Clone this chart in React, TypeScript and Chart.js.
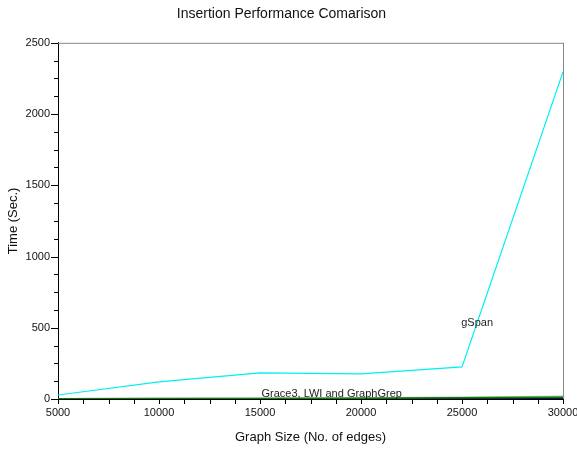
import React, { useEffect, useRef } from "react";
import { Chart, registerables } from "chart.js";

Chart.register(...registerables);

const graphSizes = [5000, 10000, 15000, 20000, 25000, 30000];
const gSpanTimes = [28, 120, 183, 176, 225, 2296];
const grace3Times = [2, 4, 6, 8, 12, 20];
const lwiTimes = [1, 3, 4, 6, 8, 12];
const graphGrepTimes = [0.5, 1, 1.5, 2, 3, 4];

const titleText = "Insertion Performance Comarison";
const xTitle = "Graph Size (No. of edges)";
const yTitle = "Time (Sec.)";
const labelTexts = ["gSpan", "Grace3, LWI and GraphGrep"];
const labelX = [25750, 18550];
const labelY = [534, 36];

const FONT = "'Liberation Sans', Arial, Helvetica, sans-serif";

const decorPlugin = {
  id: "decor",
  afterDraw(chart: any) {
    const { ctx, chartArea, scales } = chart;
    const xs = scales.x;
    const ys = scales.y;
    ctx.save();
    ctx.strokeStyle = "#888888";
    ctx.lineWidth = 1;
    ctx.beginPath();
    ctx.moveTo(chartArea.left, chartArea.top + 0.5);
    ctx.lineTo(chartArea.right, chartArea.top + 0.5);
    ctx.moveTo(chartArea.right + 0.5, chartArea.top);
    ctx.lineTo(chartArea.right + 0.5, chartArea.bottom);
    ctx.stroke();
    ctx.strokeStyle = "#000000";
    ctx.beginPath();
    for (let v = xs.min; v <= xs.max + 1; v += 1250) {
      const px = Math.round(xs.getPixelForValue(v)) + 0.5;
      ctx.moveTo(px, chartArea.bottom);
      ctx.lineTo(px, chartArea.bottom + 5);
    }
    for (let v = ys.min; v <= ys.max + 1; v += 125) {
      const py = Math.round(ys.getPixelForValue(v)) + 0.5;
      const len = v % 500 === 0 ? 7 : 4;
      ctx.moveTo(chartArea.left, py);
      ctx.lineTo(chartArea.left - len, py);
    }
    ctx.stroke();
    ctx.fillStyle = "#222222";
    ctx.font = `11px ${FONT}`;
    ctx.textAlign = "center";
    ctx.textBaseline = "middle";
    for (let i = 0; i < labelTexts.length; i++) {
      ctx.fillText(labelTexts[i], xs.getPixelForValue(labelX[i]), ys.getPixelForValue(labelY[i]));
    }
    ctx.restore();
  },
};

export default function App() {
  const ref = useRef<HTMLCanvasElement>(null);
  useEffect(() => {
    if (!ref.current) return;
    const mk = (label: string, data: number[], color: string, w = 1.2) => ({
      label,
      data: graphSizes.map((x, i) => ({ x, y: data[i] })),
      borderColor: color,
      backgroundColor: color,
      borderWidth: w,
      pointRadius: 0,
      tension: 0,
    });
    const chart = new Chart(ref.current, {
      type: "line",
      data: {
        datasets: [
          mk("LWI", lwiTimes, "#0a7a0a", 1.5),
          mk("GraphGrep", graphGrepTimes, "#101050", 1.5),
          mk("Grace3", grace3Times, "#a8c8a0", 1.5),
          mk("gSpan", gSpanTimes, "#00f0f0", 1.2),
        ],
      },
      options: {
        animation: false,
        responsive: false,
        maintainAspectRatio: false,
        layout: { padding: { left: 0, right: 14, top: 0, bottom: 0 } },
        plugins: {
          legend: { display: false },
          tooltip: { enabled: false },
          title: {
            display: true,
            text: titleText,
            color: "#111111",
            font: { family: FONT, size: 14, weight: "normal" },
            padding: { top: 6, bottom: 20 },
          },
        },
        scales: {
          x: {
            type: "linear",
            min: 5000,
            max: 30000,
            afterFit: (s: any) => {
              s.height = 50;
              s.paddingLeft = 0;
              s.paddingRight = 0;
            },
            ticks: {
              stepSize: 5000,
              color: "#111111",
              font: { family: FONT, size: 11 },
              padding: 2,
              maxRotation: 0,
              autoSkip: false,
              callback: (v: any) => String(v),
            },
            grid: { display: true, drawOnChartArea: false, color: "transparent", tickLength: 5 },
            border: { display: true, color: "#000000", width: 1 },
            title: {
              display: true,
              text: xTitle,
              color: "#111111",
              font: { family: FONT, size: 13 },
              padding: { top: 4, bottom: 4 },
            },
          },
          y: {
            type: "linear",
            min: 0,
            max: 2500,
            afterFit: (s: any) => {
              s.width = 58;
              s.paddingTop = 0;
              s.paddingBottom = 0;
            },
            ticks: {
              stepSize: 500,
              color: "#111111",
              font: { family: FONT, size: 11 },
              padding: 1,
              callback: (v: any) => String(v),
            },
            grid: { display: true, drawOnChartArea: false, color: "transparent", tickLength: 7 },
            border: { display: true, color: "#000000", width: 1 },
            title: {
              display: true,
              text: yTitle,
              color: "#111111",
              font: { family: FONT, size: 13 },
              padding: { top: 6, bottom: 2 },
            },
          },
        },
      },
      plugins: [decorPlugin],
    });
    return () => chart.destroy();
  }, []);
  return (
    <div style={{ position: "absolute", left: 0, top: 0, width: 577, height: 449, background: "#fff" }}>
      <canvas ref={ref} width={577} height={449} style={{ width: 577, height: 449 }} />
    </div>
  );
}
